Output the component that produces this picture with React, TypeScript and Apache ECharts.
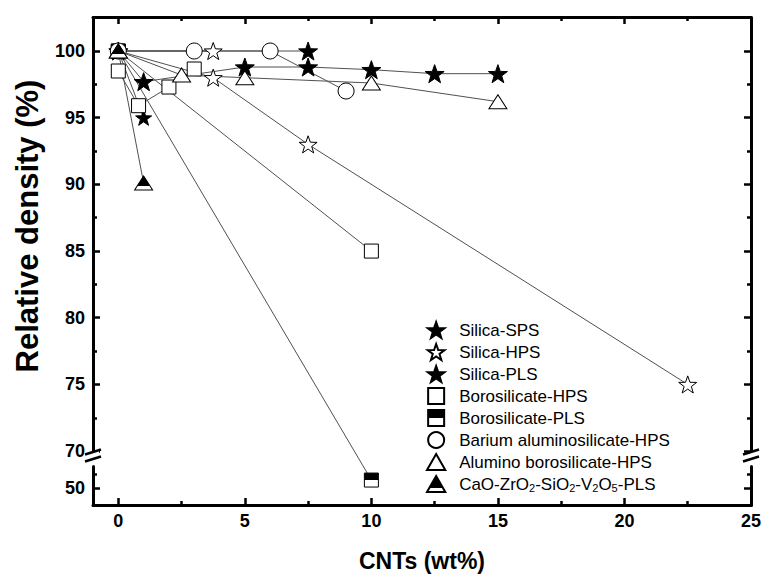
import React, { useEffect, useRef } from 'react';
import * as echarts from 'echarts';

// ---------- data ----------
const legendNames = [
  'Silica-SPS',
  'Silica-HPS',
  'Silica-PLS',
  'Borosilicate-HPS',
  'Borosilicate-PLS',
  'Barium aluminosilicate-HPS',
  'Alumino borosilicate-HPS',
  'CaO-ZrO2-SiO2-V2O5-PLS',
];

const silicaSPS_a = [[0, 100], [1, 97.7], [5, 98.8], [7.5, 98.8], [10, 98.6], [12.5, 98.3], [15, 98.3]];
const silicaSPS_b = [[0, 100], [7.5, 100]];
const silicaHPS_a = [[0, 100], [3.75, 100]];
const silicaHPS_b = [[0, 100], [3.75, 98], [7.5, 93], [22.5, 75]];
const silicaPLS = [[0, 100], [1, 95]];
const borosilicateHPS_a = [[0, 98.5], [0.8, 95.9], [2, 97.3], [3, 98.65]];
const borosilicateHPS_b = [[0, 100], [10, 85]];
const borosilicatePLS = [[0, 100], [10, 50.6]];
const bariumHPS = [[0, 100], [3, 100], [6, 100], [9, 97]];
const aluminoHPS = [[0, 100], [2.5, 98.2], [5, 98], [10, 97.6], [15, 96.2]];
const caoPLS = [[0, 100], [1, 90.1]];

const xLabelValues = [0, 5, 10, 15, 20, 25];
const xMinorValues = [2.5, 7.5, 12.5, 17.5, 22.5];
const yLabelValues = [50, 70, 75, 80, 85, 90, 95, 100];
const yMinorValues = [51, 72.5, 77.5, 82.5, 87.5, 92.5, 97.5];

// ---------- styles ----------
const FONT = "'Liberation Sans', Arial, sans-serif";
const X_MIN = -1;
const X_MAX = 25;
const Y_MIN = 48.73;
const Y_MAX = 102.55;
const Y_BREAKS = [{ start: 51.6, end: 69.6, gap: 0.77 }];

const STAR = 'path://M10,0L12.35,6.76L19.51,6.91L13.8,11.24L15.88,18.09L10,14L4.12,18.09L6.2,11.24L0.49,6.91L7.65,6.76Z';
const SQUARE = 'path://M0,0H14V14H0Z';
const TRIANGLE = 'path://M8,0L16,14L0,14Z';

const halfFill = (stop: number) => ({
  type: 'linear', x: 0, y: 0, x2: 0, y2: 1,
  colorStops: [
    { offset: 0, color: '#000' },
    { offset: stop, color: '#000' },
    { offset: stop, color: '#fff' },
    { offset: 1, color: '#fff' },
  ],
});

const groups = [
  { name: legendNames[0], sets: [silicaSPS_a, silicaSPS_b], symbol: STAR, size: 19, color: '#000' },
  { name: legendNames[1], sets: [silicaHPS_a, silicaHPS_b], symbol: STAR, size: 18, color: '#fff' },
  { name: legendNames[2], sets: [silicaPLS], symbol: STAR, size: 16, color: '#000' },
  { name: legendNames[3], sets: [borosilicateHPS_a, borosilicateHPS_b], symbol: SQUARE, size: 14, color: '#fff' },
  { name: legendNames[4], sets: [borosilicatePLS], symbol: SQUARE, size: 14, color: halfFill(0.5) },
  { name: legendNames[5], sets: [bariumHPS], symbol: 'circle', size: 16, color: '#fff' },
  { name: legendNames[6], sets: [aluminoHPS], symbol: TRIANGLE, size: [18, 16], color: '#fff' },
  { name: legendNames[7], sets: [caoPLS], symbol: TRIANGLE, size: [18, 16], color: halfFill(0.72) },
];

function xAxisDef(position: string, ticks: number[], len: number, main: boolean) {
  return {
    type: 'value', position, min: X_MIN, max: X_MAX,
    axisLine: { show: main, onZero: false, lineStyle: { color: '#000', width: 3 } },
    axisTick: { show: true, inside: true, length: len, customValues: ticks, lineStyle: { color: '#000', width: 2.5 } },
    axisLabel: main && position === 'bottom'
      ? { show: true, customValues: xLabelValues, fontFamily: FONT, fontWeight: 'bold', fontSize: 18, color: '#000', margin: 7 }
      : { show: false },
    splitLine: { show: false },
    ...(main && position === 'bottom'
      ? {
          name: 'CNTs (wt%)', nameLocation: 'middle', nameGap: 44,
          nameTextStyle: { fontFamily: FONT, fontWeight: 'bold', fontSize: 23, color: '#000' },
        }
      : {}),
  };
}

function yAxisDef(position: string, ticks: number[], len: number, main: boolean) {
  return {
    type: 'value', position, min: Y_MIN, max: Y_MAX, breaks: Y_BREAKS,
    breakArea: { show: false },
    axisLine: { show: main, onZero: false, lineStyle: { color: '#000', width: 3 } },
    axisTick: { show: true, inside: true, length: len, customValues: ticks, lineStyle: { color: '#000', width: 2.5 } },
    axisLabel: main && position === 'left'
      ? { show: true, customValues: yLabelValues, fontFamily: FONT, fontWeight: 'bold', fontSize: 18, color: '#000', margin: 8 }
      : { show: false },
    splitLine: { show: false },
  };
}

function breakMark(cx: number, cy: number) {
  return {
    type: 'group',
    children: [
      {
        type: 'polygon', z: 100,
        shape: { points: [[cx - 6, cy - 1], [cx + 6, cy - 5], [cx + 6, cy + 2], [cx - 6, cy + 6]] },
        style: { fill: '#fff' },
      },
      { type: 'line', z: 101, shape: { x1: cx - 8, y1: cy - 0.5, x2: cx + 8, y2: cy - 5.5 }, style: { stroke: '#000', lineWidth: 2.5 } },
      { type: 'line', z: 101, shape: { x1: cx - 8, y1: cy + 6.5, x2: cx + 8, y2: cy + 1.5 }, style: { stroke: '#000', lineWidth: 2.5 } },
    ],
  };
}

export default function App() {
  const ref = useRef<HTMLDivElement>(null);

  useEffect(() => {
    if (!ref.current) return;
    const chart = echarts.init(ref.current, undefined, { renderer: 'svg' });

    const lineSeries: any[] = [];
    const scatterSeries: any[] = [];
    groups.forEach((g, gi) => {
      g.sets.forEach((s, si) => {
        lineSeries.push({
          type: 'line', name: `line-${gi}-${si}`, data: s, symbol: 'none', silent: true,
          lineStyle: { color: '#505050', width: 1 }, z: 2,
        });
      });
      const pts: number[][] = [];
      g.sets.forEach((s) => s.forEach((p) => {
        if (!pts.some((q) => q[0] === p[0] && q[1] === p[1])) pts.push(p);
      }));
      scatterSeries.push({
        type: 'scatter', name: g.name, data: pts, symbol: g.symbol, symbolSize: g.size,
        symbolKeepAspect: true, z: 3 + gi * 0.01,
        itemStyle: { color: g.color, borderColor: '#000', borderWidth: 1, opacity: 1 },
      });
    });

    const option: any = {
      animation: false,
      backgroundColor: '#fff',
      grid: { left: 93, right: 15, top: 17, bottom: 72, containLabel: false, outerBoundsMode: 'none' },
      xAxis: [
        xAxisDef('bottom', xLabelValues, 7, true),
        xAxisDef('bottom', xMinorValues, 4, false),
        xAxisDef('top', xLabelValues, 7, true),
        xAxisDef('top', xMinorValues, 4, false),
      ],
      yAxis: [
        yAxisDef('left', yLabelValues, 7, true),
        yAxisDef('left', yMinorValues, 4, false),
        yAxisDef('right', yLabelValues, 7, true),
        yAxisDef('right', yMinorValues, 4, false),
      ],
      legend: {
        orient: 'vertical', left: 426, top: 321, padding: 0, itemWidth: 36, itemHeight: 16, itemGap: 4,
        selectedMode: false, symbolKeepAspect: true,
        data: groups.map((g) => ({ name: g.name, icon: g.symbol })),
        formatter: (n: string) =>
          n === legendNames[7] ? 'CaO-ZrO{s|2}-SiO{s|2}-V{s|2}O{s|5}-PLS' : n,
        textStyle: {
          fontFamily: FONT, fontSize: 17, color: '#000',
          rich: { s: { fontFamily: FONT, fontSize: 11, color: '#000', verticalAlign: 'bottom', padding: [7, 0, 0, 0] } },
        },
      },
      graphic: [
        breakMark(93, 455),
        breakMark(751, 455),
        {
          type: 'text', x: 27, y: 226, rotation: Math.PI / 2, z: 50,
          style: {
            text: 'Relative density (%)', align: 'center', verticalAlign: 'middle',
            fontFamily: FONT, fontWeight: 'bold', fontSize: 31, fill: '#000',
          },
        },
      ],
      series: [...scatterSeries, ...lineSeries],
    };
    chart.setOption(option);
    return () => chart.dispose();
  }, []);

  return <div ref={ref} style={{ width: 766, height: 577, position: 'absolute', left: 0, top: 0 }} />;
}
